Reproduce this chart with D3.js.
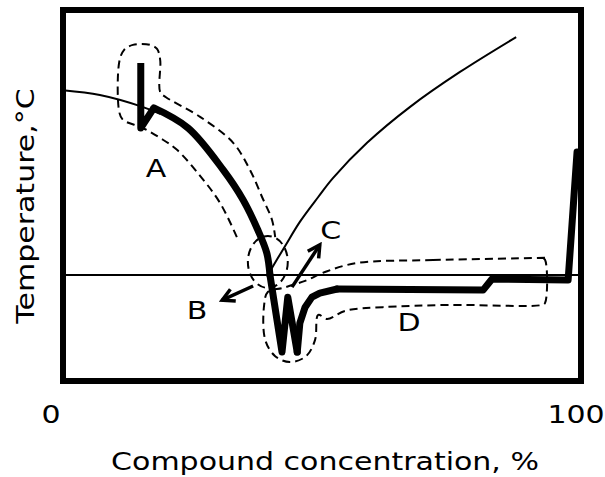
<!DOCTYPE html>
<html lang="en">
<head>
    <meta charset="UTF-8">
    <title>Phase diagram</title>
    <script src="https://cdn.jsdelivr.net/npm/d3@7/dist/d3.min.js"></script>
    <style>
        body { margin: 0; background: #fff; }
        text { font-family: "DejaVu Sans", Verdana, sans-serif; fill: #000; }
    </style>
</head>
<body>
<script type="text/javascript">
    // concentration in %, temperature in arbitrary units (0..100 over the frame)
    const xTicks = [0, 100];
    const eutecticT = 28.6;

    // thin liquidus lines
    const liqLeftX = [2.3, 9.3, 17.0, 20.8];
    const liqLeftY = [78.4, 77.1, 74.1, 72.0];
    const liqRightX = [41.3, 44.6, 47.4, 50.9, 53.7, 60.2, 68.4, 77.9, 88.6];
    const liqRightY = [28.6, 36.4, 42.9, 49.6, 54.7, 64.2, 73.9, 83.3, 92.7];

    // measured (thick) curve, split where the trace turns sharply
    const measX = [17.1, 17.1, 19.6, 26.1, 32.8, 36.6, 39.4, 41.1, 41.7, 44.0, 45.1, 46.9, 47.4, 48.4, 49.7, 51.2, 54.5, 82.3, 84.0, 98.5, 100.2];
    const measY = [85.7, 68.2, 73.6, 68.2, 56.9, 48.8, 40.7, 34.5, 28.6, 7.8, 22.6, 7.8, 15.6, 19.9, 22.6, 23.7, 24.8, 24.5, 27.5, 27.2, 61.7];
    const measBreaks = [0, 2, 8, 11, 16, 20];

    // dashed region A
    const regAX = [35.4, 32.2, 28.4, 24.0, 20.8, 17.5, 13.7, 13.0, 13.0, 13.9, 15.6, 18.9, 20.2, 20.8, 20.8, 21.9, 28.4, 34.7, 37.9, 40.2, 42.1, 42.7];
    const regAY = [38.8, 48.0, 55.3, 62.3, 65.5, 68.2, 70.4, 72.5, 86.0, 89.2, 90.6, 90.6, 89.5, 86.5, 77.9, 76.5, 71.2, 64.2, 56.9, 49.6, 43.4, 38.8];

    // dashed region B (ellipse: centre, radii)
    const regB = [41.3, 32.1, 3.8, 7.0];

    // dashed region around the dip and D
    const regDX = [94.1, 72.8, 58.3, 52.6, 48.4, 44.2, 41.3, 40.6, 40.8, 42.7, 45.5, 48.6, 50.3, 50.9, 52.6, 56.0, 63.2, 76.0, 93.5, 94.1, 94.1, 93.5];
    const regDY = [33.2, 32.6, 31.8, 29.6, 27.0, 25.1, 24.0, 20.5, 11.1, 6.7, 5.1, 6.7, 11.1, 17.8, 16.7, 18.9, 19.9, 20.5, 20.5, 21.0, 32.7, 33.2];

    // arrows [x1, y1, x2, y2]
    const arrowB = [38.5, 25.6, 32.6, 21.8];
    const arrowC = [45.9, 25.3, 51.2, 36.7];

    const labelNames = ["A", "B", "C", "D"];
    const labelX = [20.0, 27.8, 53.3, 68.2];
    const labelY = [57.4, 19.1, 40.7, 15.9];

    const width = 605, height = 477;
    const frame = {left: 63, right: 581, top: 10, bottom: 381};
    const stretch = 'scale(1.2,1)';   // the original lettering is a wide face

    const x = d3.scaleLinear().domain([0, 100]).range([51, 576]);
    const y = d3.scaleLinear().domain([0, 100]).range([frame.bottom, frame.top]);

    const svg = d3.select('body').append('svg')
        .attr('width', width)
        .attr('height', height);

    svg.append('defs').append('marker')
        .attr('id', 'head')
        .attr('viewBox', '0 0 18 18')
        .attr('refX', 15).attr('refY', 9)
        .attr('markerWidth', 18).attr('markerHeight', 18)
        .attr('markerUnits', 'userSpaceOnUse')
        .attr('orient', 'auto')
        .append('path')
        .attr('d', 'M3,2.5 L15,9 L3,15.5')
        .attr('fill', 'none')
        .attr('stroke', '#000')
        .attr('stroke-width', 3.5);

    const zip = (xs, ys) => xs.map((v, i) => [v, ys[i]]);
    const line = d3.line().x(d => x(d[0])).y(d => y(d[1]));
    const smooth = d3.line().x(d => x(d[0])).y(d => y(d[1])).curve(d3.curveCatmullRom.alpha(0.5));
    const smoothClosed = d3.line().x(d => x(d[0])).y(d => y(d[1])).curve(d3.curveCatmullRomClosed.alpha(0.5));

    // eutectic horizontal
    svg.append('line')
        .attr('x1', frame.left).attr('x2', frame.right)
        .attr('y1', y(eutecticT)).attr('y2', y(eutecticT))
        .attr('stroke', '#000').attr('stroke-width', 2);

    // liquidus
    [zip(liqLeftX, liqLeftY), zip(liqRightX, liqRightY)].forEach(pts => {
        svg.append('path')
            .attr('d', smooth(pts))
            .attr('fill', 'none').attr('stroke', '#000').attr('stroke-width', 2);
    });

    // dashed regions
    const dashed = g => g.attr('fill', 'none').attr('stroke', '#000')
        .attr('stroke-width', 2).attr('stroke-dasharray', '8,5');
    svg.append('path').attr('d', smooth(zip(regAX, regAY))).call(dashed);
    svg.append('ellipse')
        .attr('cx', x(regB[0])).attr('cy', y(regB[1]))
        .attr('rx', x(regB[0] + regB[2]) - x(regB[0]))
        .attr('ry', y(regB[1]) - y(regB[1] + regB[3]))
        .call(dashed);
    svg.append('path').attr('d', smoothClosed(zip(regDX, regDY))).call(dashed);

    // measured thick curve
    const meas = zip(measX, measY);
    const thick = svg.append('g')
        .attr('fill', 'none').attr('stroke', '#000')
        .attr('stroke-width', 7).attr('stroke-linejoin', 'round');
    for (let i = 0; i < measBreaks.length - 1; i++) {
        const pts = meas.slice(measBreaks[i], measBreaks[i + 1] + 1);
        thick.append('path')
            .attr('d', i === 1 ? smooth(pts) : line(pts))
            .attr('stroke-linecap', i === 0 ? 'butt' : 'round');
    }

    // arrows
    [arrowB, arrowC].forEach(a => {
        svg.append('line')
            .attr('x1', x(a[0])).attr('y1', y(a[1]))
            .attr('x2', x(a[2])).attr('y2', y(a[3]))
            .attr('stroke', '#000').attr('stroke-width', 3.5)
            .attr('marker-end', 'url(#head)');
    });

    // letters
    svg.append('g').selectAll('text')
        .data(labelNames)
        .join('text')
        .attr('transform', (d, i) => `translate(${x(labelX[i])},${y(labelY[i])}) ${stretch}`)
        .attr('text-anchor', 'middle')
        .attr('dominant-baseline', 'central')
        .style('font-size', '25px')
        .text(d => d);

    // frame
    svg.append('rect')
        .attr('x', frame.left).attr('y', frame.top)
        .attr('width', frame.right - frame.left)
        .attr('height', frame.bottom - frame.top)
        .attr('fill', 'none').attr('stroke', '#000').attr('stroke-width', 6);

    // tick labels
    svg.append('g').selectAll('text')
        .data(xTicks)
        .join('text')
        .attr('transform', d => `translate(${x(d)},423) ${stretch}`)
        .attr('text-anchor', 'middle')
        .style('font-size', '25px')
        .text(d => d);

    svg.append('text')
        .attr('transform', `translate(325,470) ${stretch}`)
        .attr('text-anchor', 'middle')
        .style('font-size', '25px')
        .text('Compound concentration, %');

    svg.append('text')
        .attr('transform', `translate(34,206) rotate(-90) ${stretch}`)
        .attr('text-anchor', 'middle')
        .style('font-size', '25px')
        .text('Temperature,°C');
</script>
</body>
</html>
